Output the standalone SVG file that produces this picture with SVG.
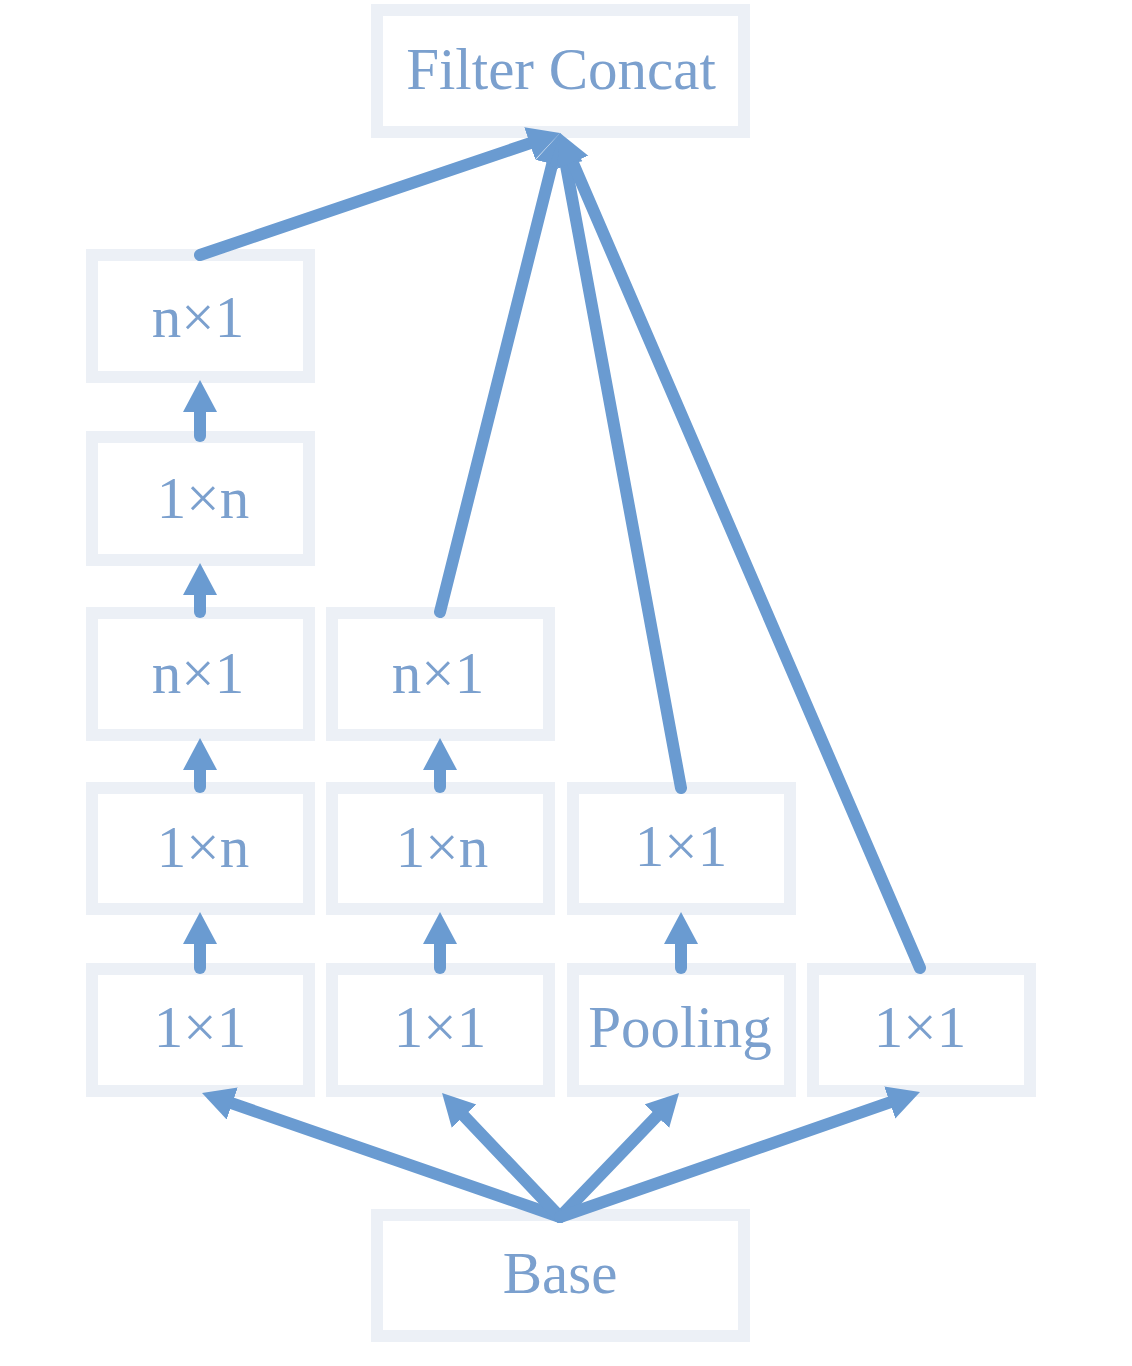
<svg xmlns="http://www.w3.org/2000/svg" width="1132" height="1366" viewBox="0 0 1132 1366">
<style>
.box{fill:#ffffff;stroke:#ecf0f6;stroke-width:12}
.lbl{font-family:"Liberation Serif","Times New Roman",serif;font-size:59px;fill:#7ba0ce;text-anchor:middle}
.ln{stroke:#6a9bd1;stroke-width:12;stroke-linecap:round;fill:none;marker-end:url(#ah)}
</style>
<defs>
<marker id="ah" markerUnits="userSpaceOnUse" markerWidth="40" markerHeight="40" refX="10" refY="17" orient="auto">
<path d="M0,0 L32,17 L0,34 z" fill="#6a9bd1"/>
</marker>
</defs>
<rect width="1132" height="1366" fill="#ffffff"/>
<g id="filter-concat"><rect class="box" x="377" y="10" width="367" height="122"/><text class="lbl" x="561" y="89">Filter Concat</text></g>
<g id="c1r1"><rect class="box" x="92" y="255" width="217" height="122"/><text class="lbl" x="198" y="337">n×1</text></g>
<g id="c1r2"><rect class="box" x="92" y="437" width="217" height="123"/><text class="lbl" x="203" y="518">1×n</text></g>
<g id="c1r3"><rect class="box" x="92" y="613" width="217" height="122"/><text class="lbl" x="198" y="693">n×1</text></g>
<g id="c1r4"><rect class="box" x="92" y="788" width="217" height="121"/><text class="lbl" x="203" y="867">1×n</text></g>
<g id="c1r5"><rect class="box" x="92" y="969" width="217" height="122"/><text class="lbl" x="200" y="1047">1×1</text></g>
<g id="c2r3"><rect class="box" x="332" y="613" width="217" height="122"/><text class="lbl" x="438" y="693">n×1</text></g>
<g id="c2r4"><rect class="box" x="332" y="788" width="217" height="121"/><text class="lbl" x="442" y="867">1×n</text></g>
<g id="c2r5"><rect class="box" x="332" y="969" width="217" height="122"/><text class="lbl" x="440" y="1047">1×1</text></g>
<g id="c3r4"><rect class="box" x="573" y="788" width="217" height="121"/><text class="lbl" x="681" y="866">1×1</text></g>
<g id="c3r5"><rect class="box" x="573" y="969" width="217" height="122"/><text class="lbl" x="680" y="1047">Pooling</text></g>
<g id="c4r5"><rect class="box" x="813" y="969" width="217" height="122"/><text class="lbl" x="920" y="1047">1×1</text></g>
<g id="base"><rect class="box" x="377" y="1215" width="367" height="121"/><text class="lbl" x="560" y="1293">Base</text></g>
<g id="connectors">
<path class="ln" d="M200,436 L200,402"/>
<path class="ln" d="M200,612 L200,585"/>
<path class="ln" d="M200,787 L200,760"/>
<path class="ln" d="M200,968 L200,934"/>
<path class="ln" d="M440,787 L440,760"/>
<path class="ln" d="M440,968 L440,934"/>
<path class="ln" d="M681,968 L681,934"/>
<path class="ln" d="M200,255 L539.2,140.1"/>
<path class="ln" d="M440,612 L554.7,154.3"/>
<path class="ln" d="M681,788 L564,154.6"/>
<path class="ln" d="M920,968 L568.7,153.2"/>
<path class="ln" d="M560,1217 L222.8,1100.2"/>
<path class="ln" d="M560,1217 L457.2,1108.9"/>
<path class="ln" d="M560,1217 L663.8,1108.9"/>
<path class="ln" d="M560,1217 L899.2,1099.2"/>
</g>
</svg>
